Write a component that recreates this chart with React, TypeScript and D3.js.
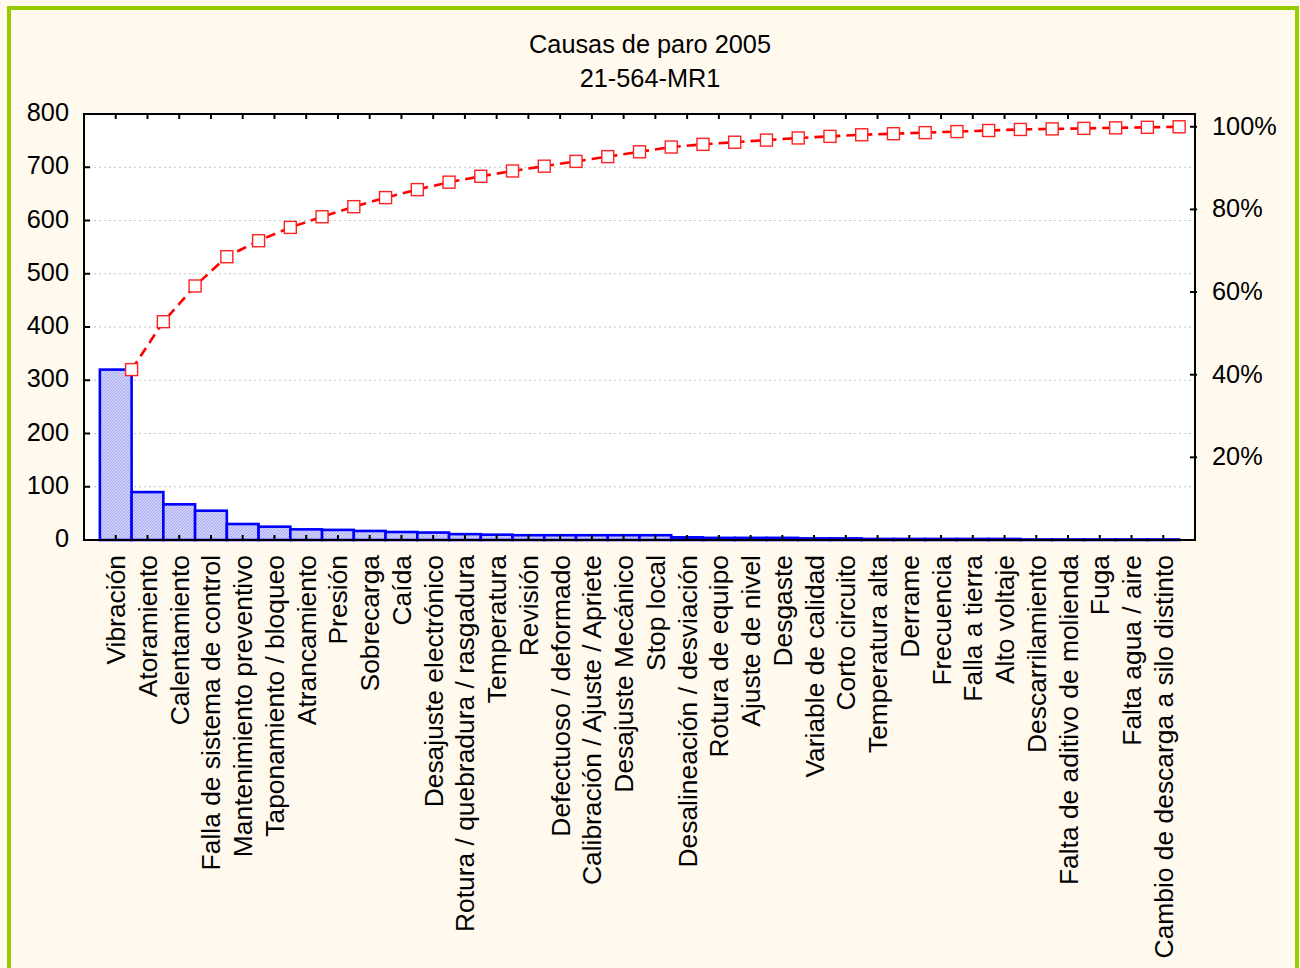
import { useEffect, useRef } from 'react'
import * as d3 from 'd3'

const TITLE = 'Causas de paro 2005'
const SUBTITLE = '21-564-MR1'

const CATEGORIES = [
  'Vibración',
  'Atoramiento',
  'Calentamiento',
  'Falla de sistema de control',
  'Mantenimiento preventivo',
  'Taponamiento / bloqueo',
  'Atrancamiento',
  'Presión',
  'Sobrecarga',
  'Caída',
  'Desajuste electrónico',
  'Rotura / quebradura / rasgadura',
  'Temperatura',
  'Revisión',
  'Defectuoso / deformado',
  'Calibración / Ajuste / Apriete',
  'Desajuste Mecánico',
  'Stop local',
  'Desalineación / desviación',
  'Rotura de equipo',
  'Ajuste de nivel',
  'Desgaste',
  'Variable de calidad',
  'Corto circuito',
  'Temperatura alta',
  'Derrame',
  'Frecuencia',
  'Falla a tierra',
  'Alto voltaje',
  'Descarrilamiento',
  'Falta de aditivo de molienda',
  'Fuga',
  'Falta agua / aire',
  'Cambio de descarga a silo distinto',
]

const COUNTS = [
  320, 90, 67, 55, 30, 25, 20, 19, 17, 15, 14, 11, 10, 9, 9, 9, 9, 9, 5, 4, 4, 4, 3, 3, 2, 2, 2,
  2, 2, 1, 1, 1, 1, 1,
]

const LEFT_TICKS = [0, 100, 200, 300, 400, 500, 600, 700, 800]
const RIGHT_TICKS = [20, 40, 60, 80, 100]

const FONT = '"Liberation Sans", Arial, sans-serif'
const W = 1300
const H = 968

export default function App() {
  const svgRef = useRef<SVGSVGElement | null>(null)

  useEffect(() => {
    document.body.style.margin = '0'
    const svg = svgRef.current
    if (!svg) return

    const plot = { left: 84, right: 1195, top: 114, bottom: 540 }

    const x = d3
      .scaleBand<string>()
      .domain(CATEGORIES)
      .range([plot.left, plot.right])
      .paddingInner(0)
      .paddingOuter(0.5)
    const y = d3.scaleLinear().domain([0, 800]).range([plot.bottom, plot.top])

    const total = d3.sum(COUNTS)
    const cumulative = d3.cumsum(COUNTS)
    const yPct = d3
      .scaleLinear()
      .domain([0, 100])
      .range([y(0), y(total)])

    const root = d3.select(svg)
    root.selectAll('*').remove()

    // hatch for the bars
    const pattern = root
      .append('defs')
      .append('pattern')
      .attr('id', 'hatch')
      .attr('patternUnits', 'userSpaceOnUse')
      .attr('width', 3)
      .attr('height', 3)
    pattern.append('rect').attr('width', 3).attr('height', 3).attr('fill', '#cfd0fb')
    pattern
      .append('path')
      .attr('d', 'M0,3 L3,0 M-1,1 L1,-1 M2,4 L4,2')
      .attr('stroke', '#a7a8ee')
      .attr('stroke-width', 1)

    // page
    root.append('rect').attr('width', W).attr('height', H).attr('fill', '#fff9ee')
    root
      .append('rect')
      .attr('x', 9)
      .attr('y', 8)
      .attr('width', 1288)
      .attr('height', 980)
      .attr('fill', 'none')
      .attr('stroke', '#99cc00')
      .attr('stroke-width', 4)

    // title
    const title = root
      .append('g')
      .attr('font-family', FONT)
      .attr('font-size', 25.3)
      .attr('text-anchor', 'middle')
      .attr('fill', '#000')
    title.append('text').attr('x', 650).attr('y', 53).text(TITLE)
    title.append('text').attr('x', 650).attr('y', 87).text(SUBTITLE)

    // plot background
    root
      .append('rect')
      .attr('x', plot.left)
      .attr('y', plot.top)
      .attr('width', plot.right - plot.left)
      .attr('height', plot.bottom - plot.top)
      .attr('fill', '#ffffff')

    // grid
    root
      .append('g')
      .selectAll('line')
      .data(LEFT_TICKS.filter((t) => t > 0 && t < 800))
      .join('line')
      .attr('x1', plot.left)
      .attr('x2', plot.right)
      .attr('y1', (d) => y(d))
      .attr('y2', (d) => y(d))
      .attr('stroke', '#c4c4c4')
      .attr('stroke-width', 1.2)
      .attr('stroke-dasharray', '2,3')

    // bars
    root
      .append('g')
      .selectAll('rect')
      .data(CATEGORIES)
      .join('rect')
      .attr('x', (d) => x(d) ?? 0)
      .attr('width', x.bandwidth())
      .attr('y', (_, i) => y(COUNTS[i]))
      .attr('height', (_, i) => y(0) - y(COUNTS[i]))
      .attr('fill', 'url(#hatch)')
      .attr('stroke', '#0000ff')
      .attr('stroke-width', 2.6)

    // ticks (inward) on all sides
    const ticks = root.append('g').attr('stroke', '#000').attr('stroke-width', 2)
    CATEGORIES.forEach((c) => {
      const cx = (x(c) ?? 0) + x.bandwidth() / 2
      ticks.append('line').attr('x1', cx).attr('x2', cx).attr('y1', plot.bottom).attr('y2', plot.bottom - 5)
      ticks.append('line').attr('x1', cx).attr('x2', cx).attr('y1', plot.top).attr('y2', plot.top + 5)
    })
    LEFT_TICKS.forEach((t) => {
      ticks.append('line').attr('x1', plot.left).attr('x2', plot.left + 6).attr('y1', y(t)).attr('y2', y(t))
    })
    RIGHT_TICKS.forEach((t) => {
      ticks
        .append('line')
        .attr('x1', plot.right - 5)
        .attr('x2', plot.right + 2)
        .attr('y1', yPct(t))
        .attr('y2', yPct(t))
    })

    // frame
    root
      .append('rect')
      .attr('x', plot.left)
      .attr('y', plot.top)
      .attr('width', plot.right - plot.left)
      .attr('height', plot.bottom - plot.top)
      .attr('fill', 'none')
      .attr('stroke', '#000')
      .attr('stroke-width', 2)

    // cumulative line
    const pts = CATEGORIES.map((c, i) => ({
      x: (x(c) ?? 0) + x.bandwidth(),
      y: yPct((cumulative[i] / total) * 100),
    }))
    const line = d3
      .line<{ x: number; y: number }>()
      .x((d) => d.x)
      .y((d) => d.y)
    root
      .append('path')
      .attr('d', line(pts))
      .attr('fill', 'none')
      .attr('stroke', '#ff0000')
      .attr('stroke-width', 2.6)
      .attr('stroke-dasharray', '10,6')
    root
      .append('g')
      .selectAll('rect')
      .data(pts)
      .join('rect')
      .attr('x', (d) => d.x - 6)
      .attr('y', (d) => d.y - 6)
      .attr('width', 12)
      .attr('height', 12)
      .attr('fill', '#ffffff')
      .attr('stroke', '#ff2020')
      .attr('stroke-width', 1.4)

    // axis labels
    const labels = root.append('g').attr('font-family', FONT).attr('font-size', 25.3).attr('fill', '#000')
    labels
      .selectAll('text.left')
      .data(LEFT_TICKS)
      .join('text')
      .attr('class', 'left')
      .attr('x', 69)
      .attr('y', (d) => y(d) + 7)
      .attr('text-anchor', 'end')
      .text((d) => String(d))
    labels
      .selectAll('text.right')
      .data(RIGHT_TICKS)
      .join('text')
      .attr('class', 'right')
      .attr('x', 1212)
      .attr('y', (d) => yPct(d) + 8)
      .attr('text-anchor', 'start')
      .text((d) => `${d}%`)
    labels
      .selectAll('text.cat')
      .data(CATEGORIES)
      .join('text')
      .attr('class', 'cat')
      .attr('font-size', 26.4)
      .attr('text-anchor', 'end')
      .attr('dy', '0.36em')
      .attr(
        'transform',
        (d) => `translate(${(x(d) ?? 0) + x.bandwidth() / 2},555) rotate(-90)`,
      )
      .text((d) => d)
  }, [])

  return (
    <svg
      ref={svgRef}
      width={W}
      height={H}
      viewBox={`0 0 ${W} ${H}`}
      style={{ position: 'absolute', left: 0, top: 0, display: 'block' }}
      role="img"
      aria-label="Pareto de causas de paro 2005"
    />
  )
}
